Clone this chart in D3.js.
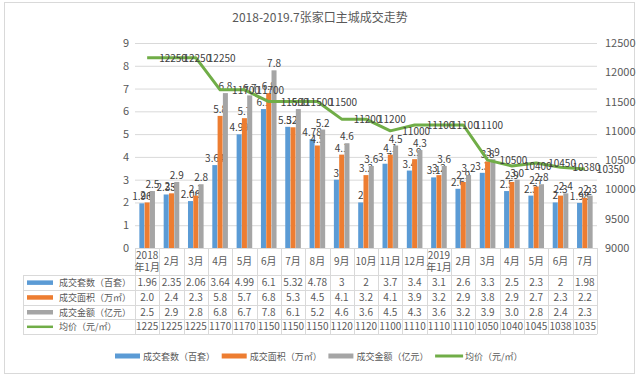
<!DOCTYPE html>
<html lang="zh">
<head>
<meta charset="UTF-8">
<script src="https://d3js.org/d3.v7.min.js"></script>
<title>2018-2019.7张家口主城成交走势</title>
<style>
  body { margin: 0; background: #fff; }
  text { font-family: "Noto Sans CJK SC", "Noto Sans", sans-serif; }
</style>
</head>
<body>
<script>
    // data
    var months = ["2018年1月","2月","3月","4月","5月","6月","7月","8月","9月","10月","11月","12月","2019年1月","2月","3月","4月","5月","6月","7月"];
    var units  = [1.96, 2.35, 2.06, 3.64, 4.99, 6.1, 5.32, 4.78, 3, 2, 3.7, 3.4, 3.1, 2.6, 3.3, 2.5, 2.3, 2, 1.98];
    var area   = [2.0, 2.4, 2.3, 5.8, 5.7, 6.8, 5.3, 4.5, 4.1, 3.2, 4.1, 3.9, 3.2, 2.9, 3.8, 2.9, 2.7, 2.3, 2.2];
    var amount = [2.5, 2.9, 2.8, 6.8, 6.7, 7.8, 6.1, 5.2, 4.6, 3.6, 4.5, 4.3, 3.6, 3.2, 3.9, 3.0, 2.8, 2.4, 2.3];
    var price  = [12250, 12250, 12250, 11700, 11700, 11500, 11500, 11500, 11200, 11200, 11000, 11100, 11100, 11100, 10500, 10400, 10450, 10380, 10350];
    var leftTicks = [0,1,2,3,4,5,6,7,8,9];
    var rightTicks = [9000,9500,10000,10500,11000,11500,12000,12500];

    var series = [
        {name: "成交套数（百套）", values: units,  color: "#5B9BD5", fmt: function(v){ return String(v); }},
        {name: "成交面积（万㎡）", values: area,   color: "#ED7D31", fmt: d3.format(".1f")},
        {name: "成交金额（亿元）", values: amount, color: "#A5A5A5", fmt: d3.format(".1f")}
    ];
    var lineName = "均价（元/㎡）", lineColor = "#70AD47";

    var W = 640, H = 377;
    var pL = 135, pR = 597, pT = 43, pB = 248;
    var txt = "#595959";

    var svg = d3.select("body").append("svg").attr("width", W).attr("height", H);
    svg.append("rect").attr("x", 4.5).attr("y", 2.5).attr("width", 630).attr("height", 371)
        .attr("fill", "#fff").attr("stroke", "#D9D9D9");

    svg.append("text").attr("x", 320).attr("y", 22).attr("text-anchor", "middle")
        .attr("font-size", 12).attr("fill", txt).text("2018-2019.7张家口主城成交走势");

    var x = d3.scaleBand().domain(d3.range(months.length)).range([pL, pR]);
    var bw = x.bandwidth();
    var groupW = 15.6;
    var x1 = d3.scaleBand().domain([0,1,2]).range([0, groupW]).paddingInner(0.05);
    var y = d3.scaleLinear().domain([0, 9]).range([pB, pT]);
    var y2 = d3.scaleLinear().domain([9000, 12500]).range([pB, pT]);

    // gridlines
    svg.append("g").selectAll("line").data(leftTicks.slice(1)).join("line")
        .attr("x1", pL).attr("x2", pR)
        .attr("y1", d => y(d) + 0.5).attr("y2", d => y(d) + 0.5)
        .attr("stroke", "#D9D9D9");

    // axes
    var gl = svg.append("g").attr("transform", "translate(" + (pL - 4) + ",0)")
        .call(d3.axisLeft(y).tickValues(leftTicks).tickSize(0).tickPadding(2));
    var gr = svg.append("g").attr("transform", "translate(" + (pR + 6) + ",0)")
        .call(d3.axisRight(y2).tickValues(rightTicks).tickFormat(d3.format("d")).tickSize(0).tickPadding(2));
    [gl, gr].forEach(function(g){
        g.select(".domain").remove();
        g.selectAll("text").attr("font-size", 11).attr("fill", txt)
            .style("font-family", "\"Noto Sans CJK SC\", sans-serif");
    });

    // bars
    series.forEach(function(s, si){
        var g = svg.append("g");
        g.selectAll("rect").data(s.values).join("rect")
            .attr("x", (d, i) => x(i) + (bw - groupW) / 2 + x1(si))
            .attr("width", x1.bandwidth())
            .attr("y", d => y(d))
            .attr("height", d => pB - y(d))
            .attr("fill", s.color);
        g.selectAll("text").data(s.values).join("text")
            .attr("x", (d, i) => x(i) + (bw - groupW) / 2 + x1(si) + x1.bandwidth() / 2)
            .attr("y", d => y(d) - 3)
            .attr("text-anchor", "middle").attr("font-size", 10).attr("fill", "#404040")
            .text(s.fmt);
    });

    // price line
    var line = d3.line().x((d, i) => x(i) + bw / 2).y(d => y2(d));
    svg.append("path").datum(price).attr("d", line)
        .attr("fill", "none").attr("stroke", lineColor).attr("stroke-width", 3)
        .attr("stroke-linejoin", "round");
    svg.append("g").selectAll("text").data(price).join("text")
        .attr("x", (d, i) => x(i) + bw / 2 + 12)
        .attr("y", d => y2(d) + 4)
        .attr("font-size", 10).attr("fill", "#404040")
        .text(d => d);

    // axis baseline
    svg.append("line").attr("x1", pL).attr("x2", pR)
        .attr("y1", pB + 0.5).attr("y2", pB + 0.5).attr("stroke", "#D9D9D9");

    // data table
    var tabLeft = 23, headBottom = 275, rowH = 14.8;
    var rows = series.map(s => ({name: s.name, color: s.color, cells: s.values.map(s.fmt), bar: true}));
    // the price column is too narrow, Excel cuts it to four digits
    rows.push({name: lineName, color: lineColor, cells: price.map(v => String(v).slice(0, 4)), bar: false});
    var tabBottom = headBottom + rows.length * rowH;

    var tg = svg.append("g");
    tg.selectAll("line.v").data(d3.range(months.length + 1)).join("line").attr("class", "v")
        .attr("x1", i => Math.round(pL + i * bw) + 0.5).attr("x2", i => Math.round(pL + i * bw) + 0.5)
        .attr("y1", pB).attr("y2", tabBottom).attr("stroke", "#D9D9D9");
    tg.append("line").attr("x1", tabLeft + 0.5).attr("x2", tabLeft + 0.5)
        .attr("y1", headBottom).attr("y2", tabBottom).attr("stroke", "#D9D9D9");
    tg.selectAll("line.h").data(d3.range(rows.length + 1)).join("line").attr("class", "h")
        .attr("x1", tabLeft).attr("x2", pR)
        .attr("y1", i => Math.round(headBottom + i * rowH) + 0.5).attr("y2", i => Math.round(headBottom + i * rowH) + 0.5)
        .attr("stroke", "#D9D9D9");

    // category header
    months.forEach(function(m, i){
        var cx = x(i) + bw / 2;
        var t = tg.append("text").attr("text-anchor", "middle").attr("font-size", 10).attr("fill", txt);
        var parts = m.match(/^(\d{4})(年.*)$/);
        if (parts) {
            t.append("tspan").attr("x", cx).attr("y", 259).text(parts[1]);
            t.append("tspan").attr("x", cx).attr("y", 271).text(parts[2]);
        } else {
            t.attr("x", cx).attr("y", 265).text(m);
        }
    });

    rows.forEach(function(r, ri){
        var cy = headBottom + ri * rowH + rowH / 2;
        if (r.bar) {
            tg.append("rect").attr("x", 27).attr("y", cy - 2).attr("width", 26).attr("height", 4.5).attr("fill", r.color);
        } else {
            tg.append("line").attr("x1", 27).attr("x2", 53).attr("y1", cy).attr("y2", cy)
                .attr("stroke", r.color).attr("stroke-width", 2.5);
        }
        tg.append("text").attr("x", 59).attr("y", cy + 3.5).attr("font-size", 9).attr("fill", txt).text(r.name);
        tg.selectAll(null).data(r.cells).join("text")
            .attr("x", (d, i) => x(i) + bw / 2).attr("y", cy + 3.5)
            .attr("text-anchor", "middle").attr("font-size", 10).attr("fill", txt)
            .text(d => d);
    });

    // legend
    var items = series.map(s => ({name: s.name, color: s.color, bar: true}))
        .concat([{name: lineName, color: lineColor, bar: false}]);
    var lg = svg.append("g");
    var ly = 356;
    items.forEach(function(it, k){
        var lx = 115 + k * 106.7;
        if (it.bar) {
            lg.append("rect").attr("x", lx).attr("y", ly - 2.5).attr("width", 25).attr("height", 5).attr("fill", it.color);
        } else {
            lg.append("line").attr("x1", lx).attr("x2", lx + 28).attr("y1", ly).attr("y2", ly)
                .attr("stroke", it.color).attr("stroke-width", 3);
        }
        lg.append("text").attr("x", lx + (it.bar ? 28 : 30)).attr("y", ly + 3.5).attr("font-size", 9).attr("fill", txt).text(it.name);
    });
</script>
</body>
</html>
